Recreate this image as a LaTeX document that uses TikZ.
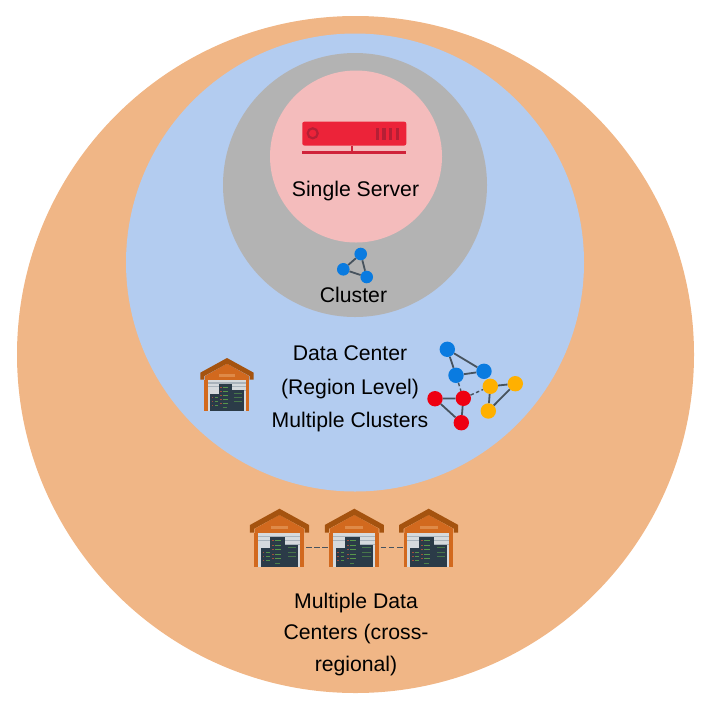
\documentclass[tikz,border=0pt]{standalone}
\usepackage{fontspec}
\setmainfont{Liberation Sans}
\definecolor{outerC}{HTML}{F0B686}
\definecolor{blueC}{HTML}{B3CCF0}
\definecolor{grayC}{HTML}{B3B3B3}
\definecolor{pinkC}{HTML}{F4BCBC}
\definecolor{srvC}{HTML}{EC2339}
\definecolor{srvD}{HTML}{B51F35}
\definecolor{srvL}{HTML}{D0233A}
\definecolor{dotB}{HTML}{0A7BE0}
\definecolor{dotR}{HTML}{EE0011}
\definecolor{dotY}{HTML}{FFB000}
\definecolor{edgeC}{HTML}{47535E}
\definecolor{roofD}{HTML}{A5530F}
\definecolor{roofO}{HTML}{D2691E}
\definecolor{roofL}{HTML}{DF8A48}
\definecolor{doorC}{HTML}{D6DADD}
\definecolor{doorS}{HTML}{A9B3BB}
\definecolor{rackC}{HTML}{2B3B48}
\definecolor{ledG}{HTML}{63B04C}
\definecolor{ledR}{HTML}{C8533A}
\tikzset{
  x=1pt,y=-1pt,
  zone/.style={circle,inner sep=0pt,fill=#1},
  lbl/.style={anchor=base,inner sep=0pt,font=\fontsize{21.2}{25}\selectfont,text=black},
  bigdot/.style={circle,inner sep=0pt,minimum size=15.4pt,fill=#1},
  smalldot/.style={circle,inner sep=0pt,minimum size=12.6pt,fill=#1},
  edgeline/.style={draw=edgeC,line width=1.8pt},
  edgedash/.style={draw=edgeC,line width=1.4pt,dash pattern=on 3.5pt off 2.5pt},
  linkdash/.style={draw=edgeC,line width=1.3pt,dash pattern=on 5.5pt off 2.7pt},
  warehouse/.pic={
    \fill[roofO] (0,17) -- (-66,54) -- (-66,67) -- (66,67) -- (66,54) -- cycle;
    \fill[roofD] (0,0) -- (-80,44) -- (-80,65) -- (-68,65) -- (-68,54) -- (0,17) -- (68,54) -- (68,65) -- (80,65) -- (80,44) -- cycle;
    \fill[roofL] (-24,47) rectangle (24,56);
    \fill[roofO] (-68,65) rectangle (-58,159);
    \fill[roofO] (56,65) rectangle (66,159);
    \fill[doorC] (-58,67) rectangle (56,159);
    \fill[doorS] (-58,73) rectangle (56,77);
    \fill[doorS] (-58,84) rectangle (56,88);
    \fill[doorS] (15,95) rectangle (56,99);
    \fill[rackC] (-25,77) rectangle (15,159);
    \fill[rackC] (-50,107) rectangle (-25,159);
    \fill[rackC] (15,97) rectangle (50,159);
    \foreach \yy in {86,98,110,122,134}{
      \fill[ledR!75!rackC] (-21,\yy) rectangle (-15,\yy+2.8);
      \fill[ledG!80!rackC] (-12,\yy) rectangle (4,\yy+2.8);
    }
    \foreach \yy in {116,128,140}{
      \fill[ledR!75!rackC] (-46,\yy) rectangle (-41,\yy+2.8);
      \fill[ledG!75!rackC] (-37,\yy) rectangle (-27,\yy+2.8);
    }
    \foreach \yy in {105,117,129}{
      \fill[ledG!50!rackC] (22,\yy) rectangle (44,\yy+2.8);
    }
    \fill[ledG!60!rackC] (-12,146) rectangle (0,148.8);
  }
}
\begin{document}
\begin{tikzpicture}
\useasboundingbox (0,0) rectangle (711,710);
% nested zones
\node[zone=outerC,minimum size=677pt] (multi) at (355.5,354.5) {};
\node[zone=blueC,minimum size=458pt] (dc) at (355,262.5) {};
\node[zone=grayC,minimum size=264pt] (clusterzone) at (355,185) {};
\node[zone=pinkC,minimum size=172pt] (serverzone) at (356,156.5) {};
% server icon
\fill[srvC,rounded corners=2pt] (302.3,121.7) rectangle (406.3,145.5);
\draw[srvD,line width=2.2pt] (312.7,133.3) circle (5pt);
\foreach \xx in {377.3,383.8,390.4,397.4}
  \fill[srvD] (\xx-1.7,127.7) rectangle (\xx+1.7,140);
\fill[srvL] (350.5,145.5) rectangle (353,152);
\fill[srvL] (302.3,151.3) rectangle (406.3,154.3);
% texts
\node[lbl] (t1) at (355.5,196) {Single Server};
\node[lbl] (t2) at (353.5,302) {Cluster};
\node[lbl] (t3) at (350,360) {Data Center};
\node[lbl] (t4) at (350,394) {(Region Level)};
\node[lbl] (t5) at (350,427) {Multiple Clusters};
\node[lbl] (t6) at (356,608) {Multiple Data};
\node[lbl] (t7) at (356,639) {Centers (cross-};
\node[lbl] (t8) at (356,671) {regional)};
% cluster icon
\node[smalldot=dotB] (ca) at (360.7,254) {};
\node[smalldot=dotB] (cb) at (343.3,269.3) {};
\node[smalldot=dotB] (cc) at (366.7,277) {};
\draw[edgeline] (ca) -- (cb);
\draw[edgeline] (cb) -- (cc);
\draw[edgeline] (ca) -- (cc);
% multi cluster icon
\node[bigdot=dotB] (ba) at (447.3,349.3) {};
\node[bigdot=dotB] (bb) at (456,375.3) {};
\node[bigdot=dotB] (bc) at (484,371.3) {};
\node[bigdot=dotR] (ra) at (435,398.7) {};
\node[bigdot=dotR] (rb) at (463.3,398.3) {};
\node[bigdot=dotR] (rc) at (461.3,422.7) {};
\node[bigdot=dotY] (ya) at (490.3,386.3) {};
\node[bigdot=dotY] (yb) at (515.3,383.7) {};
\node[bigdot=dotY] (yc) at (488.3,411) {};
\draw[edgeline] (ba) -- (bb);
\draw[edgeline] (ba) -- (bc);
\draw[edgeline] (bb) -- (bc);
\draw[edgeline] (ra) -- (rb);
\draw[edgeline] (ra) -- (rc);
\draw[edgeline] (rb) -- (rc);
\draw[edgeline] (ya) -- (yb);
\draw[edgeline] (ya) -- (yc);
\draw[edgeline] (yb) -- (yc);
\draw[edgedash] (bb) -- (rb);
\draw[edgedash] (rb) -- (ya);
% warehouses
\pic[scale=0.3333] at (227,358) {warehouse};
\pic[scale=0.369] at (279.5,508.7) {warehouse};
\pic[scale=0.369] at (354.3,508.7) {warehouse};
\pic[scale=0.369] at (428.7,508.7) {warehouse};
\coordinate (aR) at (306,547.3);
\coordinate (bL) at (328.5,547.3);
\coordinate (bR) at (380.7,547.3);
\coordinate (cL) at (403,547.3);
\draw[linkdash] (aR) -- (bL);
\draw[linkdash] (bR) -- (cL);
\end{tikzpicture}
\end{document}
